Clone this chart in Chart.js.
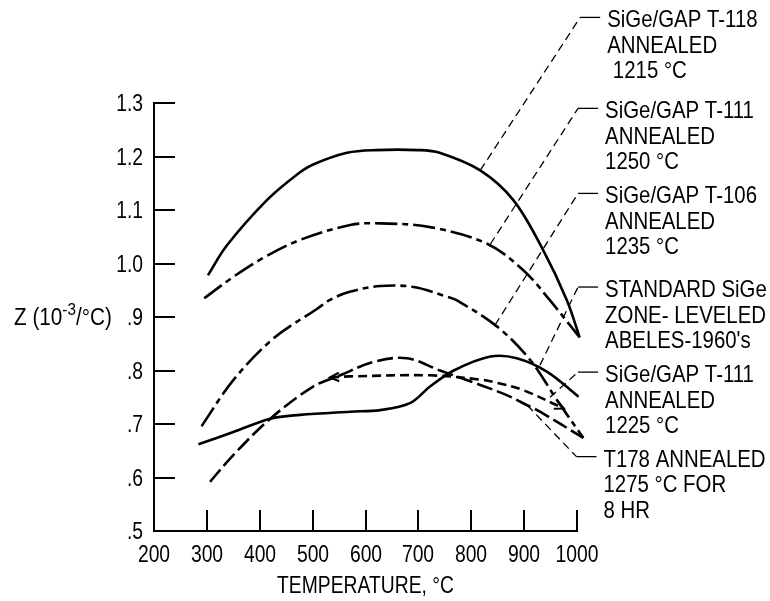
<!DOCTYPE html>
<html>
<head>
<meta charset="utf-8">
<script src="https://cdn.jsdelivr.net/npm/chart.js@4.4.1/dist/chart.umd.min.js"></script>
<style>
  html, body { margin:0; padding:0; background:#fff; }
  .wrap { width:770px; height:601px; position:relative; }
</style>
</head>
<body>
<div class="wrap"><canvas id="zChart"></canvas></div>
<script>
const FONT = '"Liberation Sans", Arial, Helvetica, sans-serif';

/* ======== AXIS TICK LABELS ======== */
const xTickLabels = ['200','300','400','500','600','700','800','900','1000'];
const yTickLabels = ['.5','.6','.7','.8','.9','1.0','1.1','1.2','1.3'];

/* ======== CURVES: temperature (°C) vs Z (10^-3/°C) ======== */
const t118Temp = [302, 338, 413, 470, 501, 565, 620, 700, 740, 817, 880, 936, 981, 1005];
const t118Z    = [0.978, 1.034, 1.118, 1.166, 1.185, 1.207, 1.212, 1.212, 1.207, 1.174, 1.118, 1.025, 0.931, 0.862];

const t111aTemp = [295, 350, 406, 476, 571, 628, 722, 830, 899, 949, 1005];
const t111aZ    = [0.935, 0.975, 1.01, 1.044, 1.072, 1.075, 1.068, 1.037, 0.987, 0.931, 0.862];

const t106Temp = [290, 350, 426, 508, 533, 570, 628, 691, 754, 773, 849, 912, 962, 1012];
const t106Z    = [0.696, 0.782, 0.86, 0.915, 0.932, 0.947, 0.958, 0.956, 0.938, 0.931, 0.882, 0.819, 0.745, 0.674];

const stdTemp = [284, 350, 420, 476, 571, 628, 684, 722, 767, 836, 886, 943, 1003];
const stdZ    = [0.662, 0.685, 0.71, 0.717, 0.723, 0.726, 0.739, 0.77, 0.80, 0.826, 0.823, 0.798, 0.751];

const t111bTemp = [533, 571, 722, 817, 849, 899, 975];
const t111bZ    = [0.787, 0.789, 0.791, 0.783, 0.777, 0.763, 0.729];

const t178Temp = [306, 350, 420, 501, 552, 615, 678, 741, 817, 867, 906, 930, 1012];
const t178Z    = [0.592, 0.642, 0.71, 0.77, 0.791, 0.816, 0.823, 0.80, 0.773, 0.754, 0.735, 0.723, 0.674];

/* ======== CALLOUTS (point on curve -> knee, in data units) ======== */
const calloutFrom = [[817, 1.174], [836, 1.036], [845, 0.885], [930, 0.81], [949, 0.75], [906, 0.735]];
const calloutKnee = [[1006, 1.46], [1002, 1.29], [1002, 1.131], [1002, 0.956], [1002, 0.797], [999, 0.639]];
const calloutText = [
  ['SiGe/GAP T-118', 'ANNEALED', ' 1215 °C'],
  ['SiGe/GAP T-111', 'ANNEALED', '1250 °C'],
  ['SiGe/GAP T-106', 'ANNEALED', '1235 °C'],
  ['STANDARD SiGe', 'ZONE- LEVELED', "ABELES-1960's"],
  ['SiGe/GAP T-111', 'ANNEALED', '1225 °C'],
  ['T178 ANNEALED', '1275 °C FOR', '8 HR']
];

function pts(xs, ys){ return xs.map((x, i) => ({ x, y: ys[i] })); }
function curve(label, xs, ys, dash){
  return {
    label, data: pts(xs, ys),
    borderColor:'#000', borderWidth:2.6, borderDash:dash,
    borderCapStyle:'butt', tension:0.35,
    pointRadius:0, fill:false, clip:false
  };
}

const datasets = [
  curve('T-118 1215', t118Temp, t118Z, []),
  curve('T-111 1250', t111aTemp, t111aZ, [22, 5, 6, 5]),
  curve('T-106 1235', t106Temp, t106Z, [22, 5, 6, 5]),
  curve('Standard SiGe', stdTemp, stdZ, []),
  curve('T-111 1225', t111bTemp, t111bZ, [9, 5]),
  curve('T178 1275', t178Temp, t178Z, [16, 5])
];

/* ======== helpers ======== */
// narrow lettering: squeeze horizontally around the anchor point
function say(ctx, str, x, y, align, size, squeeze){
  ctx.save();
  ctx.font = `${size || 23}px ${FONT}`;
  ctx.textAlign = align || 'left';
  ctx.textBaseline = 'alphabetic';
  ctx.translate(x, y);
  ctx.scale(squeeze || 0.84, 1);
  ctx.fillText(str, 0, 0);
  const w = ctx.measureText(str).width * (squeeze || 0.84);
  ctx.restore();
  return w;
}

function arrowHead(ctx, tip, from, len, spread){
  const ang = Math.atan2(tip.y - from.y, tip.x - from.x);
  ctx.beginPath();
  ctx.moveTo(tip.x - len * Math.cos(ang - spread), tip.y - len * Math.sin(ang - spread));
  ctx.lineTo(tip.x, tip.y);
  ctx.lineTo(tip.x - len * Math.cos(ang + spread), tip.y - len * Math.sin(ang + spread));
  ctx.stroke();
}

/* ======== extras: inward ticks, labels, callouts, arrows, axis titles ======== */
const figureExtras = {
  id:'figureExtras',
  afterDraw(chart){
    const { ctx, chartArea:a, scales:{ x, y } } = chart;
    ctx.save();
    ctx.strokeStyle = '#000';
    ctx.fillStyle = '#000';

    // tick marks pointing into the plot, labels outside
    ctx.lineWidth = 2;
    x.ticks.forEach((t, i) => {
      const px = Math.round(x.getPixelForValue(t.value));
      if(i){ ctx.beginPath(); ctx.moveTo(px, a.bottom); ctx.lineTo(px, a.bottom - 21); ctx.stroke(); }
      say(ctx, xTickLabels[i], px, a.bottom + 31, 'center');
    });
    y.ticks.forEach((t, i) => {
      const py = Math.round(y.getPixelForValue(t.value));
      if(i){ ctx.beginPath(); ctx.moveTo(a.left, py); ctx.lineTo(a.left + 21, py); ctx.stroke(); }
      say(ctx, yTickLabels[i], a.left - 11, py + 8, 'right');
    });

    // arrow ends on the 1225 °C curve
    const meta = chart.getDatasetMeta(4).data;
    ctx.lineWidth = 2.2;
    arrowHead(ctx, meta[0], meta[1], 10, 0.45);
    arrowHead(ctx, meta[meta.length - 1], meta[meta.length - 2], 10, 0.45);

    // callout leaders + labels
    calloutFrom.forEach((p, i) => {
      const x0 = x.getPixelForValue(p[0]), y0 = y.getPixelForValue(p[1]);
      const kx = x.getPixelForValue(calloutKnee[i][0]), ky = y.getPixelForValue(calloutKnee[i][1]);
      ctx.lineWidth = 1.3;
      ctx.setLineDash([8, 5]);
      ctx.beginPath(); ctx.moveTo(x0, y0); ctx.lineTo(kx, ky); ctx.stroke();
      ctx.setLineDash([]);
      ctx.beginPath(); ctx.moveTo(kx, ky); ctx.lineTo(kx + 20, ky); ctx.stroke();
      calloutText[i].forEach((line, j) => say(ctx, line, kx + 27, ky + 10 + j * 25.5, 'left', 24, 0.85));
    });

    // axis titles
    say(ctx, 'TEMPERATURE, °C', (a.left + a.right) / 2, a.bottom + 62, 'center');
    const by = y.getPixelForValue(0.9) + 8;
    let tx = 14;
    tx += say(ctx, 'Z (10', tx, by, 'left', 23, 0.9);
    tx += say(ctx, '-3', tx, by - 10, 'left', 17, 0.9);
    say(ctx, '/°C)', tx, by, 'left', 23, 0.9);
    ctx.restore();
  }
};

new Chart(document.getElementById('zChart'), {
  type:'line',
  data:{ datasets },
  options:{
    responsive:true, maintainAspectRatio:false, animation:false,
    layout:{ padding:{ left:0, top:103, right:193, bottom:0 } },
    plugins:{ legend:{ display:false }, tooltip:{ enabled:false } },
    scales:{
      x:{
        type:'linear', min:200, max:1000,
        ticks:{ stepSize:100, display:false },
        grid:{ display:true, drawOnChartArea:false, drawTicks:false },
        border:{ display:true, color:'#000', width:2 },
        afterFit(s){ s.height = 70; }
      },
      y:{
        type:'linear', min:0.5, max:1.3,
        ticks:{ stepSize:0.1, display:false },
        grid:{ display:true, drawOnChartArea:false, drawTicks:false },
        border:{ display:true, color:'#000', width:2 },
        afterFit(s){ s.width = 154; }
      }
    }
  },
  plugins:[figureExtras]
});
</script>
</body>
</html>
